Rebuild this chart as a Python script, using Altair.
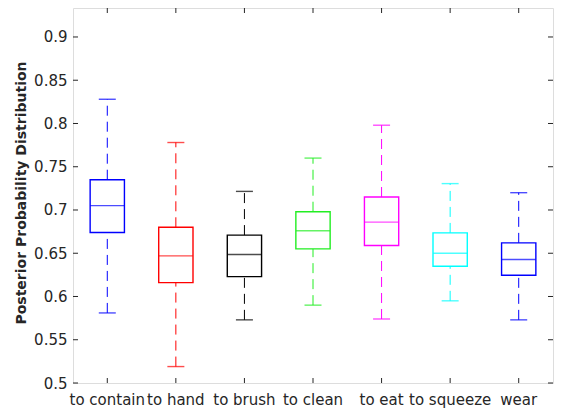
import altair as alt
import pandas as pd

categories = ["to contain", "to hand", "to brush", "to clean", "to eat", "to squeeze", "wear"]
lower = [0.581, 0.519, 0.573, 0.590, 0.574, 0.595, 0.573]
q1 = [0.674, 0.616, 0.623, 0.655, 0.659, 0.635, 0.6245]
median = [0.705, 0.647, 0.6485, 0.676, 0.686, 0.650, 0.6427]
q3 = [0.735, 0.680, 0.671, 0.698, 0.715, 0.6735, 0.662]
upper = [0.828, 0.778, 0.7215, 0.760, 0.798, 0.7305, 0.720]
colors = ["#0000FF", "#FF0000", "#000000", "#22EE22", "#FF00FF", "#00FFFF", "#0000FF"]
yticks = [0.5, 0.55, 0.6, 0.65, 0.7, 0.75, 0.8, 0.85, 0.9]

W, H = 480, 375
FONT = "DejaVu Sans"
TXT = "#262626"

df = pd.DataFrame({"cat": categories, "lower": lower, "q1": q1, "median": median,
                   "q3": q3, "upper": upper, "color": colors})
tdf = pd.DataFrame({"t": yticks})

xscale = alt.Scale(domain=categories, paddingInner=0.5, paddingOuter=0.25)
yscale = alt.Scale(domain=[0.5, 0.9335], nice=False, zero=False)
col = alt.Color("color:N", scale=None)

xenc = alt.X("cat:N", scale=xscale, sort=categories,
             axis=alt.Axis(title=None, labelAngle=0, ticks=False, tickSize=0, domain=False,
                           labelFont=FONT, labelFontSize=15, labelColor=TXT, labelPadding=9))
yaxis = alt.Axis(values=yticks, format="~g", ticks=False, tickSize=0, domain=False, grid=False,
                 labelFont=FONT, labelFontSize=15, labelColor=TXT, labelPadding=6,
                 title="Posterior Probability Distribution", titleFont=FONT, titleFontSize=14,
                 titleFontWeight="bold", titleColor=TXT, titleX=-52, titleY=184.5,
                 titleAlign="center", titleBaseline="middle")

base = alt.Chart(df)

whisk_up = base.mark_rule(strokeDash=[10, 6], strokeWidth=1).encode(
    x=xenc, y=alt.Y("q3:Q", scale=yscale, axis=yaxis), y2="upper:Q", color=col)
whisk_lo = base.mark_rule(strokeDash=[10, 6], strokeWidth=1).encode(
    x=alt.X("cat:N", scale=xscale, sort=categories), y=alt.Y("lower:Q", scale=yscale), y2="q1:Q", color=col)
box = base.mark_bar(fillOpacity=0, strokeWidth=1.4).encode(
    x=alt.X("cat:N", scale=xscale, sort=categories), y=alt.Y("q1:Q", scale=yscale), y2="q3:Q",
    stroke=alt.Stroke("color:N", scale=None))
med = base.mark_tick(size=34, thickness=1.4).encode(
    x=alt.X("cat:N", scale=xscale, sort=categories), y=alt.Y("median:Q", scale=yscale), color=col)
cap_up = base.mark_tick(size=17, thickness=1.4).encode(
    x=alt.X("cat:N", scale=xscale, sort=categories), y=alt.Y("upper:Q", scale=yscale), color=col)
cap_lo = base.mark_tick(size=17, thickness=1.4).encode(
    x=alt.X("cat:N", scale=xscale, sort=categories), y=alt.Y("lower:Q", scale=yscale), color=col)

tick_l = alt.Chart(tdf).mark_rule(color=TXT, strokeWidth=1).encode(
    y=alt.Y("t:Q", scale=yscale), x=alt.value(0), x2=alt.value(5))
tick_r = alt.Chart(tdf).mark_rule(color=TXT, strokeWidth=1).encode(
    y=alt.Y("t:Q", scale=yscale), x=alt.value(W), x2=alt.value(W - 5))
tick_b = base.mark_rule(color=TXT, strokeWidth=1).encode(
    x=alt.X("cat:N", scale=xscale, sort=categories), y=alt.value(H), y2=alt.value(H - 5))
tick_t = base.mark_rule(color=TXT, strokeWidth=1).encode(
    x=alt.X("cat:N", scale=xscale, sort=categories), y=alt.value(0), y2=alt.value(5))

chart = alt.layer(whisk_up, whisk_lo, box, med, cap_up, cap_lo, tick_l, tick_r, tick_b, tick_t).properties(
    width=W, height=H,
    autosize=alt.AutoSizeParams(type="none"),
    padding={"left": 65, "top": 0, "right": 3, "bottom": 30},
).configure_view(stroke=TXT, strokeWidth=1).configure(background="white")

chart.save("out.html", embed_options={"renderer": "svg", "actions": False})
